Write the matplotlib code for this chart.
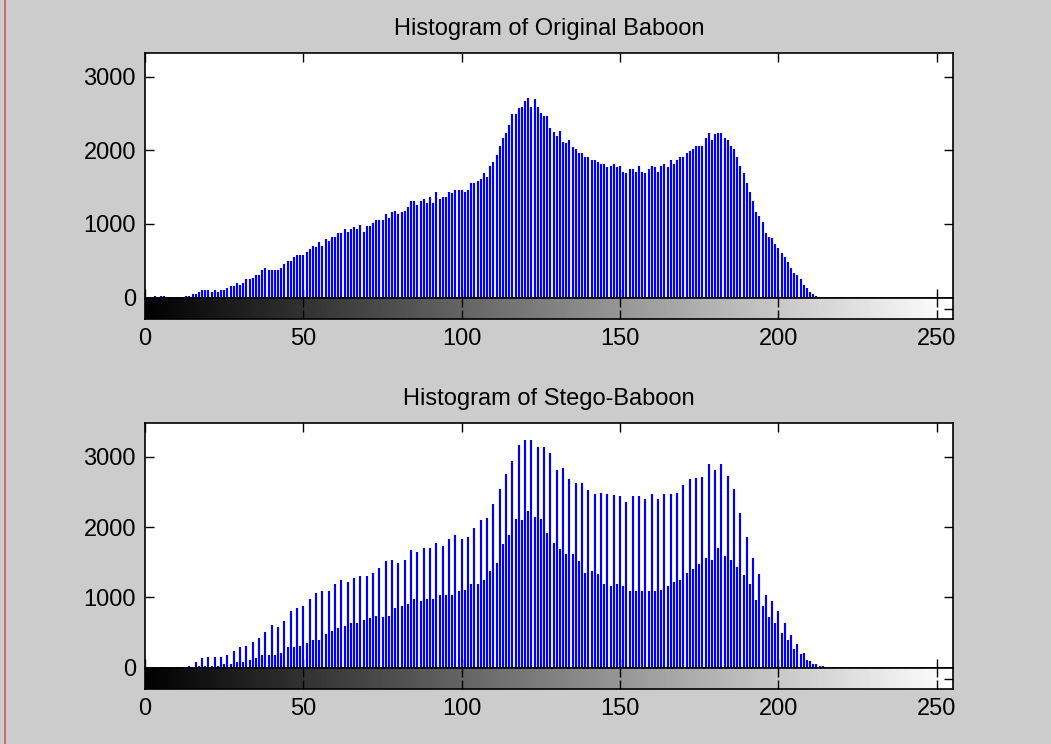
import numpy as np
import matplotlib
matplotlib.use("Agg")
import matplotlib.pyplot as plt
from matplotlib.lines import Line2D

plt.rcParams['font.family'] = ['Liberation Sans', 'DejaVu Sans']

# Gray levels 0..255
gray_levels = np.arange(256)

# Pixel counts of the original image, one entry per gray level
original_counts = [
    15, 0, 0, 25, 0, 25, 25, 0, 0, 0, 0, 0, 0, 23, 23, 45,
    54, 72, 104, 104, 104, 72, 104, 72, 104, 104, 127, 154, 154, 203, 176, 203,
    249, 249, 271, 303, 303, 380, 398, 380, 380, 380, 375, 398, 452, 502, 502, 556,
    579, 579, 579, 624, 655, 705, 683, 750, 705, 796, 773, 827, 827, 877, 877, 931,
    895, 931, 963, 931, 985, 895, 976, 976, 1008, 1053, 1053, 1053, 1130, 1085, 1157, 1175,
    1130, 1157, 1175, 1234, 1311, 1311, 1257, 1311, 1333, 1288, 1360, 1288, 1437, 1333, 1360, 1360,
    1437, 1415, 1460, 1460, 1460, 1437, 1460, 1559, 1559, 1587, 1609, 1686, 1632, 1785, 1835, 1935,
    2061, 2161, 2237, 2341, 2491, 2491, 2567, 2590, 2671, 2712, 2590, 2694, 2590, 2500, 2463, 2465,
    2296, 2242, 2192, 2265, 2115, 2093, 2138, 2039, 2011, 1966, 1966, 1912, 1912, 1867, 1867, 1835,
    1813, 1813, 1767, 1790, 1813, 1767, 1790, 1709, 1686, 1740, 1740, 1709, 1785, 1709, 1686, 1740,
    1785, 1767, 1709, 1790, 1813, 1767, 1867, 1813, 1867, 1912, 1912, 1966, 1989, 2011, 2061, 2061,
    2061, 2161, 2237, 2138, 2215, 2237, 2237, 2170, 2138, 2061, 2011, 1912, 1785, 1686, 1559, 1437,
    1311, 1157, 1107, 1031, 881, 827, 805, 728, 678, 610, 556, 479, 407, 330, 303, 253,
    172, 127, 72, 45, 27, 14, 0, 0, 0, 0, 0, 0, 0, 0, 0, 0,
    0, 0, 0, 0, 0, 0, 0, 0, 0, 0, 0, 0, 0, 0, 0, 0,
    0, 0, 0, 0, 0, 0, 0, 0, 0, 0, 0, 0, 0, 0, 0, 0,
]

# Pixel counts of the stego image, one entry per gray level
stego_counts = [
    10, 0, 15, 15, 0, 15, 15, 0, 0, 0, 15, 0, 15, 0, 25, 0,
    76, 20, 133, 24, 157, 24, 157, 24, 157, 48, 180, 48, 238, 76, 290, 76,
    314, 110, 371, 133, 428, 180, 505, 180, 609, 180, 585, 214, 662, 290, 800, 290,
    847, 314, 871, 347, 980, 395, 1062, 395, 1085, 480, 1085, 528, 1195, 562, 1242, 600,
    1219, 633, 1276, 633, 1300, 680, 1300, 710, 1347, 733, 1420, 719, 1514, 738, 1537, 847,
    1490, 871, 1537, 904, 1671, 981, 1642, 952, 1704, 981, 1704, 981, 1775, 1028, 1728, 1028,
    1833, 1038, 1880, 1085, 1833, 1109, 1856, 1195, 1990, 1195, 2099, 1252, 2123, 1371, 2332, 1490,
    2547, 1752, 2761, 1880, 2942, 2118, 3165, 2099, 3237, 2228, 3237, 2147, 3132, 2118, 3132, 1909,
    3051, 1775, 2813, 1690, 2837, 1618, 2680, 1618, 2623, 1514, 2628, 1347, 2523, 1371, 2475, 1333,
    2490, 1195, 2466, 1166, 2456, 1195, 2442, 1166, 2361, 1085, 2442, 1085, 2442, 1085, 2394, 1085,
    2466, 1085, 2394, 1109, 2466, 1157, 2466, 1214, 2490, 1242, 2594, 1347, 2680, 1404, 2704, 1480,
    2713, 1561, 2894, 1537, 2808, 1704, 2894, 1595, 2727, 1537, 2547, 1433, 2204, 1323, 1856, 1195,
    1561, 957, 1333, 871, 1038, 719, 952, 633, 800, 500, 633, 395, 466, 262, 338, 195,
    214, 109, 100, 52, 48, 29, 24, 0, 0, 0, 0, 0, 0, 0, 0, 0,
    0, 0, 0, 0, 0, 0, 0, 0, 0, 0, 0, 0, 0, 0, 0, 0,
    0, 0, 0, 0, 0, 0, 0, 0, 0, 0, 0, 0, 0, 0, 0, 0,
]

titles = ["Histogram of Original Baboon", "Histogram of Stego-Baboon"]
x_ticks = [0, 50, 100, 150, 200, 250]
y_ticks = [0, 1000, 2000, 3000]
y_tops = [3315, 3475]

BG = "#cccccc"
FS = 17
TICK_LEN = 6.3

fig = plt.figure(figsize=(10.51, 7.44), dpi=100, facecolor=BG)

W = 1051.0
H = 744.0
left = 145.0 / W
width = (952.7 - 145.0) / W


def frac_y(px):
    return 1.0 - px / H


# (top of histogram axes, histogram baseline, bottom of colour bar) in pixels
panels = [(53.3, 297.7, 319.3), (423.3, 667.7, 689.3)]
series = [original_counts, stego_counts]

for (top_px, base_px, bar_px), counts, title, ytop in zip(panels, series, titles, y_tops):
    ax = fig.add_axes([left, frac_y(base_px), width, (base_px - top_px) / H])
    cb = fig.add_axes([left, frac_y(bar_px), width, (bar_px - base_px) / H])

    ax.set_facecolor("white")
    ax.vlines(gray_levels, 0, counts, colors="#0000ff", linewidth=1.55)
    ax.set_xlim(0, 255)
    ax.set_ylim(0, ytop)
    ax.set_xticks(x_ticks)
    ax.set_yticks(y_ticks)
    ax.tick_params(axis="both", direction="in", length=TICK_LEN, width=1.0,
                   top=True, right=True, labelbottom=False, labelsize=FS,
                   colors="black", pad=6.5)
    for s in ax.spines.values():
        s.set_linewidth(1.2)
        s.set_color("black")
    ax.set_title(title, fontsize=FS, pad=13.5, color="black")

    # gray-level colour bar under the histogram
    cb.imshow(gray_levels[np.newaxis, :], cmap="gray", aspect="auto",
              extent=[-0.5, 255.5, 0, 1], vmin=0, vmax=255,
              interpolation="nearest")
    cb.set_xlim(0, 255)
    cb.set_ylim(0, 1)
    cb.set_xticks(x_ticks)
    cb.set_xticklabels([str(t) for t in x_ticks])
    cb.set_yticks([0.5])
    cb.tick_params(axis="both", direction="in", length=TICK_LEN, width=1.0,
                   top=True, right=True, left=True, labelleft=False,
                   labelsize=FS, colors="black", pad=6)
    for s in cb.spines.values():
        s.set_linewidth(1.2)
        s.set_color("black")

# window border lines at the image edges
fig.add_artist(Line2D([4.5 / W, 4.5 / W], [0, 1], transform=fig.transFigure,
                      color="#d9534f", linewidth=1.2))

fig.savefig("out.png", dpi=100, facecolor=BG)
